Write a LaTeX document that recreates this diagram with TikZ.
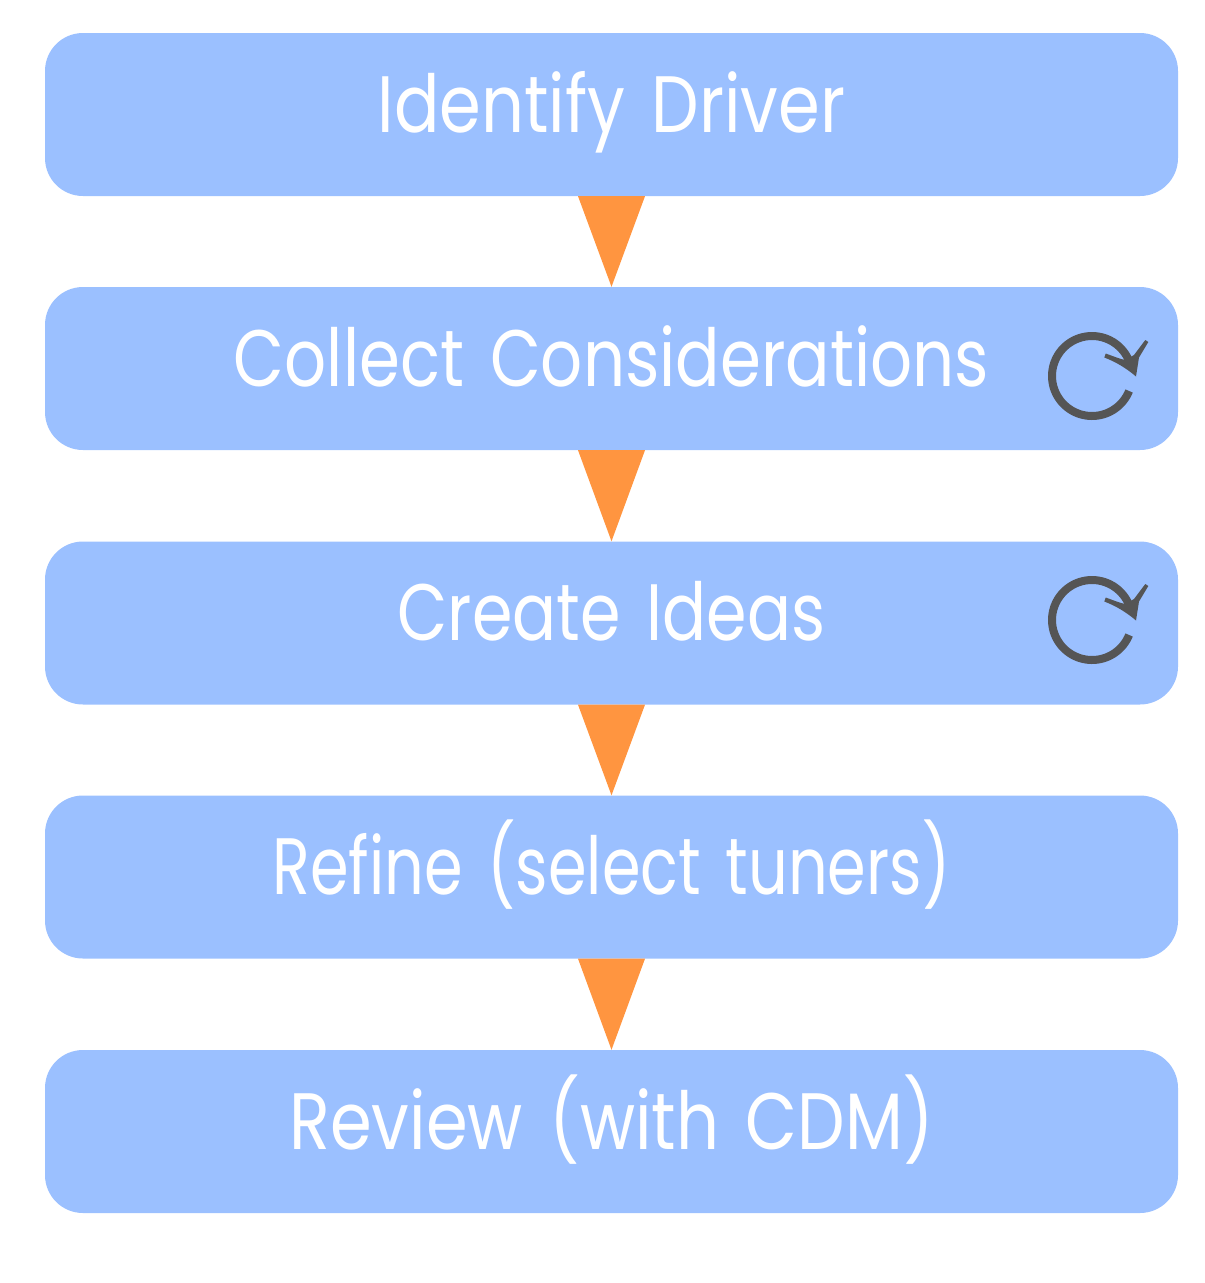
\documentclass[tikz,border=0pt]{standalone}
\usepackage{fontspec}
\setmainfont[FakeStretch=0.84]{Poppins}
\usetikzlibrary{calc}
\definecolor{boxblue}{HTML}{9BC0FF}
\definecolor{arroworange}{HTML}{FF9540}
\definecolor{icongrey}{HTML}{555555}
\tikzset{
  stepbox/.style={fill=boxblue,rounded corners=38pt,minimum width=1133pt,minimum height=163pt,
    inner sep=0pt,text=white,text width=1133pt,align=center,text height=61pt,text depth=26pt,
    font=\fontsize{80}{84}\selectfont},
  flowtri/.style={fill=arroworange},
  iconline/.style={draw=icongrey,line width=8pt},
  iconhead/.style={fill=icongrey}
}
\newcommand{\reloadicon}[2]{%
  \begin{scope}[shift={(#1,#2)}]
    \draw[iconline] plot[domain=22:342,samples=80,smooth] ({40*cos(\x)},{40*sin(\x)});
    \fill[iconhead] (44,0.5) .. controls (34,-8) and (24,-14) .. (12.3,-18.5) -- (13.7,-22.5)
      .. controls (22,-19.5) and (28,-17) .. (33.3,-16) -- (42,-21) -- (53.3,-36) -- (56.3,-34)
      -- (47,-18.5) -- cycle;
  \end{scope}}
\begin{document}
\begin{tikzpicture}[x=1pt,y=-1pt]
\useasboundingbox (0,0) rectangle (1205,1283);
\node[stepbox] (a) at (611.5,114.5) {Identify Driver};
\node[stepbox] (b) at (611.5,368.5) {\scalebox{0.98}[1]{Collect Considerations}};
\node[stepbox] (c) at (611.5,623) {\scalebox{0.97}[1]{Create Ideas}};
\node[stepbox] (d) at (611.5,877) {\scalebox{0.925}[1]{Refine (select tuners)}};
\node[stepbox] (e) at (611.5,1131.5) {Review (with CDM)};
\fill[flowtri] ($(a.south)+(-33.5,0)$) -- ($(a.south)+(33.5,0)$) -- (b.north) -- cycle;
\fill[flowtri] ($(b.south)+(-33.5,0)$) -- ($(b.south)+(33.5,0)$) -- (c.north) -- cycle;
\fill[flowtri] ($(c.south)+(-33.5,0)$) -- ($(c.south)+(33.5,0)$) -- (d.north) -- cycle;
\fill[flowtri] ($(d.south)+(-33.5,0)$) -- ($(d.south)+(33.5,0)$) -- (e.north) -- cycle;
\reloadicon{1092}{376}
\reloadicon{1092}{620}
\end{tikzpicture}
\end{document}
